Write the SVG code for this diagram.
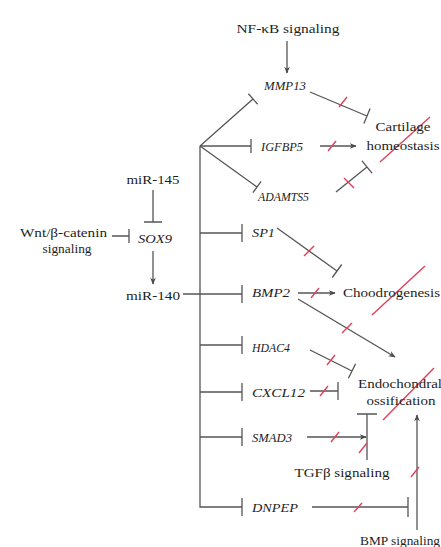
<svg xmlns="http://www.w3.org/2000/svg" width="441" height="547" viewBox="0 0 441 547">
<defs>
<marker id="arr" viewBox="0 0 10 10" refX="9" refY="5" markerWidth="7" markerHeight="7" orient="auto" markerUnits="userSpaceOnUse">
<path d="M0,1 L10,5 L0,9 L3,5 Z" fill="#4a4a4a"/>
</marker>
<style>
text{font-family:"Liberation Serif","DejaVu Serif","Times New Roman",serif;font-size:13.5px;fill:#1e1e1e}
.g{font-style:italic}
.m{text-anchor:middle}
.l{stroke:#555;stroke-width:1.3;fill:none}
.a{marker-end:url(#arr)}
.r{stroke:#e0405a;stroke-width:1.4;fill:none}
</style>
</defs>
<rect width="441" height="547" fill="#ffffff"/>
<g id="connectors">
<path class="l" d="M200,146 V507 H242"/>
<path class="l" d="M242,498 V516"/>
<path class="l" d="M200,146 L253,99 M248.4,93.8 L257.6,104.2"/>
<path class="l" d="M200,146 H251 M251,139 V153"/>
<path class="l" d="M200,146 L257,187 M261.1,181.3 L252.9,192.7"/>
<path class="l" d="M200,233 H242 M242,224 V242"/>
<path class="l" d="M183,294 H242 M242,285 V303"/>
<path class="l" d="M200,345 H242 M242,336 V354"/>
<path class="l" d="M200,392 H242 M242,383 V401"/>
<path class="l" d="M200,437 H242 M242,428 V446"/>
<path class="l" d="M153,190 V222 M144,222 H162"/>
<path class="l" d="M112,236 H129 M129,229 V243"/>
<path class="l a" d="M153,251 V284"/>
<path class="l a" d="M287,41 V73"/>
<path class="l" d="M310,92 L367,116 M370.1,108.6 L363.9,123.4"/>
<path class="l a" d="M320,146 H356"/>
<path class="l" d="M336,192 L367,167 M362,160.8 L372,173.2"/>
<path class="l" d="M277,228 L337,271 M341.7,264.5 L332.3,277.5"/>
<path class="l a" d="M298,293 H335"/>
<path class="l a" d="M298,299 L395,357"/>
<path class="l" d="M310,350 L352,371 M355.6,363.8 L348.4,378.2"/>
<path class="l" d="M310,391 H338 M338,382 V400"/>
<path class="l a" d="M307,437 H366"/>
<path class="l" d="M367,460 V414 M357,414 H377"/>
<path class="l a" d="M417,530 V415"/>
<path class="l" d="M312,507 H408 M408,497 V517"/>
<path class="r" d="M339,107 L347,97"/>
<path class="r" d="M328,151 L336,141"/>
<path class="r" d="M344,178 L354,188"/>
<path class="r" d="M304,256 L314,246"/>
<path class="r" d="M311,298 L319,288"/>
<path class="r" d="M342,333 L352,323"/>
<path class="r" d="M327,365 L335,355"/>
<path class="r" d="M320,396 L328,386"/>
<path class="r" d="M331,442 L339,432"/>
<path class="r" d="M359,453 L367,443"/>
<path class="r" d="M411,477 L419,467"/>
<path class="r" d="M354,512 L362,503"/>
<path class="r" d="M380,162 L430,117"/>
<path class="r" d="M372,315 L425,266"/>
<path class="r" d="M383,420 L434,368"/>
</g>
<g id="nfkb"><text class="m" x="288" y="33" textLength="103" lengthAdjust="spacingAndGlyphs">NF-κB signaling</text></g>
<g id="mmp13"><text class="g" x="264" y="90" textLength="42" lengthAdjust="spacingAndGlyphs">MMP13</text></g>
<g id="igfbp5"><text class="g" x="261" y="151" textLength="42" lengthAdjust="spacingAndGlyphs">IGFBP5</text></g>
<g id="adamts5"><text class="g" x="258" y="201" textLength="51" lengthAdjust="spacingAndGlyphs">ADAMTS5</text></g>
<g id="sp1"><text class="g" x="252" y="237" textLength="23" lengthAdjust="spacingAndGlyphs">SP1</text></g>
<g id="bmp2"><text class="g" x="252" y="297" textLength="38" lengthAdjust="spacingAndGlyphs">BMP2</text></g>
<g id="hdac4"><text class="g" x="252" y="352" textLength="38" lengthAdjust="spacingAndGlyphs">HDAC4</text></g>
<g id="cxcl12"><text class="g" x="252" y="397" textLength="53" lengthAdjust="spacingAndGlyphs">CXCL12</text></g>
<g id="smad3"><text class="g" x="252" y="442" textLength="40" lengthAdjust="spacingAndGlyphs">SMAD3</text></g>
<g id="dnpep"><text class="g" x="252" y="512" textLength="46" lengthAdjust="spacingAndGlyphs">DNPEP</text></g>
<g id="sox9"><text class="g" x="138" y="243" textLength="34" lengthAdjust="spacingAndGlyphs">SOX9</text></g>
<g id="mir145"><text class="m" x="153" y="184" textLength="53" lengthAdjust="spacingAndGlyphs">miR-145</text></g>
<g id="mir140"><text class="m" x="153" y="300" textLength="54" lengthAdjust="spacingAndGlyphs">miR-140</text></g>
<g id="wnt"><text class="m" x="63.5" y="237" textLength="87" lengthAdjust="spacingAndGlyphs">Wnt/β-catenin</text><text class="m" x="67" y="253" textLength="49" lengthAdjust="spacingAndGlyphs">signaling</text></g>
<g id="cartilage"><text class="m" x="403" y="131" textLength="55" lengthAdjust="spacingAndGlyphs">Cartilage</text><text class="m" x="403" y="150" textLength="73" lengthAdjust="spacingAndGlyphs">homeostasis</text></g>
<g id="chondrogenesis"><text x="343" y="297" textLength="97" lengthAdjust="spacingAndGlyphs">Choodrogenesis</text></g>
<g id="endochondral"><text x="358" y="388" textLength="84" lengthAdjust="spacingAndGlyphs">Endochondral</text><text class="m" x="401" y="405" textLength="69" lengthAdjust="spacingAndGlyphs">ossification</text></g>
<g id="tgfb"><text class="m" x="342" y="477" textLength="95" lengthAdjust="spacingAndGlyphs">TGFβ  signaling</text></g>
<g id="bmp"><text x="360" y="545" textLength="80" lengthAdjust="spacingAndGlyphs">BMP signaling</text></g>
</svg>
